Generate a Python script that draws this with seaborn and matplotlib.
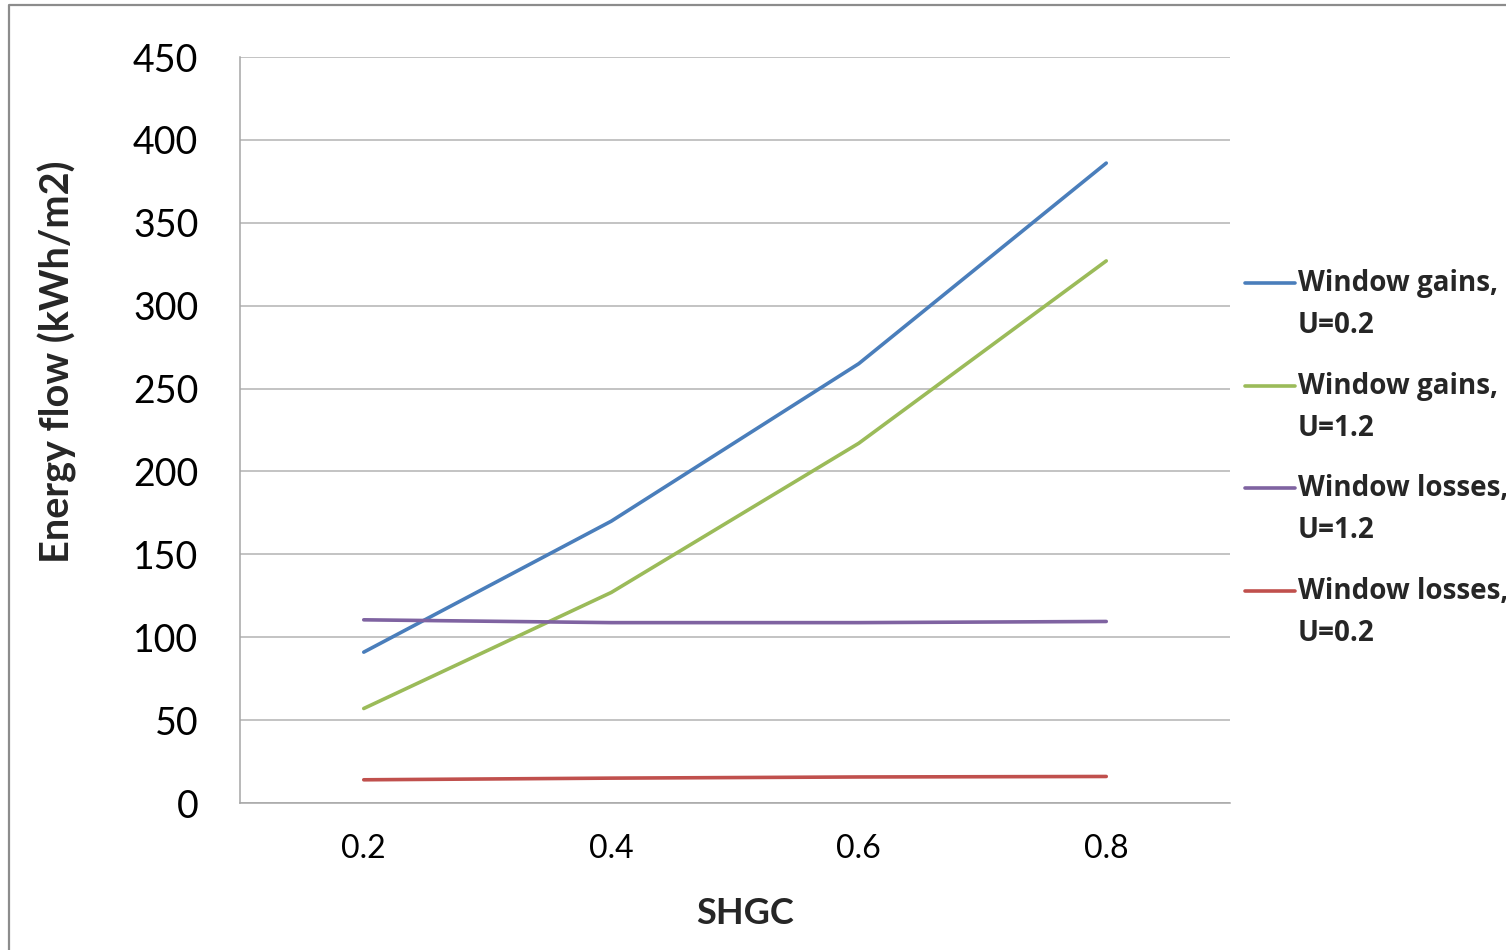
import matplotlib
matplotlib.use("Agg")
import matplotlib.pyplot as plt
from matplotlib.lines import Line2D
import seaborn as sns
import pandas as pd

# ---- data ----
shgc = ["0.2", "0.4", "0.6", "0.8"]
gains_u02 = [91, 170, 265, 386]
gains_u12 = [57, 127, 217, 327]
losses_u12 = [110.5, 108.8, 108.8, 109.5]
losses_u02 = [14, 15, 15.7, 16]
series_names = ["Window gains,\nU=0.2", "Window gains,\nU=1.2",
                "Window losses,\nU=1.2", "Window losses,\nU=0.2"]
series_values = [gains_u02, gains_u12, losses_u12, losses_u02]
colors = ["#4A7EBB", "#9BBB59", "#7F63A1", "#C0504D"]
y_ticks = [0, 50, 100, 150, 200, 250, 300, 350, 400, 450]

rows = []
for name, vals in zip(series_names, series_values):
    for x, v in zip(shgc, vals):
        rows.append({"SHGC": x, "Energy": v, "Series": name})
df = pd.DataFrame(rows)

sns.set_theme(style="white")
plt.rcParams["font.family"] = ["Lato", "DejaVu Sans"]

W, H = 1506, 950
fig = plt.figure(figsize=(W / 100, H / 100), dpi=100)
ax = fig.add_axes([240 / W, 1 - 803 / H, (1230 - 240) / W, (803 - 57) / H])

sns.lineplot(data=df, x="SHGC", y="Energy", hue="Series", hue_order=series_names,
             palette=colors, sort=False, linewidth=2.6, legend=False, ax=ax)

ax.set_xlim(-0.5, 3.5)
ax.set_ylim(0, 450)
ax.set_yticks(y_ticks)
ax.set_yticklabels([str(t) for t in y_ticks], fontsize=27)
ax.set_xticks(range(len(shgc)))
ax.set_xticklabels(shgc, fontsize=23)
ax.tick_params(axis="y", length=0, pad=30, colors="black")
ax.tick_params(axis="x", length=0, pad=22, colors="black")
ax.grid(axis="y", color="#b3b3b3", linewidth=1.1)
ax.set_axisbelow(True)
for s in ["top", "right"]:
    ax.spines[s].set_visible(False)
for s in ["left", "bottom"]:
    ax.spines[s].set_color("#a6a6a6")
    ax.spines[s].set_linewidth(1.1)
ax.set_xlabel("")
ax.set_ylabel("")

fig.text(57 / W, 1 - 362 / H, "Energy flow (kWh/m2)", rotation=90, fontsize=28.5,
         fontweight="bold", ha="center", va="center")
fig.text(745 / W, 1 - 913 / H, "SHGC", fontsize=26, fontweight="bold",
         ha="center", va="center")

# legend (manual, Excel style)
for i, (name, c) in enumerate(zip(series_names, colors)):
    ly = 283 + i * 102.7
    fig.add_artist(Line2D([1245 / W, 1295 / W], [1 - ly / H, 1 - ly / H],
                          transform=fig.transFigure, color=c, linewidth=2.6))
    first, second = name.split("\n")
    fig.text(1298 / W, 1 - (ly + 8) / H, first, fontsize=20, fontweight="bold",
             family=["Open Sans", "DejaVu Sans"], ha="left", va="baseline")
    fig.text(1298 / W, 1 - (ly + 50) / H, second, fontsize=20, fontweight="bold",
             family=["Open Sans", "DejaVu Sans"], ha="left", va="baseline")

# outer chart border (left and top)
fig.add_artist(Line2D([9 / W, 9 / W, 1.0], [0.0, 1 - 5 / H, 1 - 5 / H],
                      transform=fig.transFigure, color="#8c8c8c", linewidth=1.6))

fig.savefig("out.png", dpi=100)
